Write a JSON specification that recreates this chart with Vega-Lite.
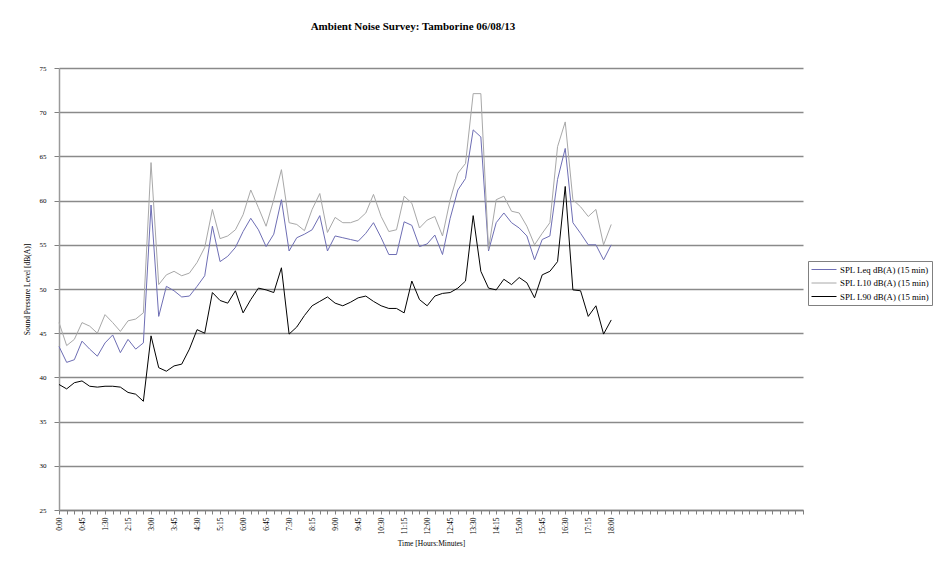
{
  "$schema": "https://vega.github.io/schema/vega-lite/v6.json",
  "width": 744,
  "height": 442,
  "autosize": {"type": "none"},
  "padding": {"left": 59, "top": 68, "right": 133, "bottom": 55},
  "background": "white",
  "title": {
    "text": "Ambient  Noise Survey: Tamborine  06/08/13",
    "font": "Liberation Serif",
    "fontSize": 11,
    "fontWeight": "bold",
    "color": "#000000",
    "anchor": "middle",
    "frame": "group",
    "dx": -18,
    "offset": 32
  },
  "data": {
    "values": [
      {"t": 0, "Leq": 43.5, "L10": 46.2, "L90": 39.2},
      {"t": 15, "Leq": 41.7, "L10": 43.6, "L90": 38.7},
      {"t": 30, "Leq": 42.0, "L10": 44.3, "L90": 39.4},
      {"t": 45, "Leq": 44.1, "L10": 46.2, "L90": 39.6},
      {"t": 60, "Leq": 43.2, "L10": 45.8, "L90": 39.0},
      {"t": 75, "Leq": 42.4, "L10": 45.0, "L90": 38.9},
      {"t": 90, "Leq": 43.9, "L10": 47.1, "L90": 39.0},
      {"t": 105, "Leq": 44.8, "L10": 46.2, "L90": 39.0},
      {"t": 120, "Leq": 42.8, "L10": 45.2, "L90": 38.9},
      {"t": 135, "Leq": 44.3, "L10": 46.4, "L90": 38.3},
      {"t": 150, "Leq": 43.2, "L10": 46.6, "L90": 38.1},
      {"t": 165, "Leq": 43.9, "L10": 47.3, "L90": 37.3},
      {"t": 180, "Leq": 59.5, "L10": 64.3, "L90": 44.7},
      {"t": 195, "Leq": 46.9, "L10": 50.5, "L90": 41.1},
      {"t": 210, "Leq": 50.3, "L10": 51.6, "L90": 40.7},
      {"t": 225, "Leq": 49.8, "L10": 52.0, "L90": 41.3},
      {"t": 240, "Leq": 49.1, "L10": 51.5, "L90": 41.5},
      {"t": 255, "Leq": 49.2, "L10": 51.8, "L90": 43.2},
      {"t": 270, "Leq": 50.3, "L10": 53.0, "L90": 45.4},
      {"t": 285, "Leq": 51.5, "L10": 54.7, "L90": 45.0},
      {"t": 300, "Leq": 57.1, "L10": 59.0, "L90": 49.6},
      {"t": 315, "Leq": 53.1, "L10": 55.7, "L90": 48.7},
      {"t": 330, "Leq": 53.7, "L10": 56.0, "L90": 48.4},
      {"t": 345, "Leq": 54.7, "L10": 56.7, "L90": 49.8},
      {"t": 360, "Leq": 56.5, "L10": 58.4, "L90": 47.3},
      {"t": 375, "Leq": 58.0, "L10": 61.2, "L90": 48.8},
      {"t": 390, "Leq": 56.7, "L10": 59.2, "L90": 50.1},
      {"t": 405, "Leq": 54.8, "L10": 57.1, "L90": 49.9},
      {"t": 420, "Leq": 56.2, "L10": 60.1, "L90": 49.6},
      {"t": 435, "Leq": 60.1, "L10": 63.5, "L90": 52.4},
      {"t": 450, "Leq": 54.3, "L10": 57.5, "L90": 44.9},
      {"t": 465, "Leq": 55.8, "L10": 57.3, "L90": 45.7},
      {"t": 480, "Leq": 56.2, "L10": 56.6, "L90": 47.0},
      {"t": 495, "Leq": 56.7, "L10": 59.0, "L90": 48.1},
      {"t": 510, "Leq": 58.3, "L10": 60.8, "L90": 48.6},
      {"t": 525, "Leq": 54.3, "L10": 56.4, "L90": 49.1},
      {"t": 540, "Leq": 56.0, "L10": 58.1, "L90": 48.4},
      {"t": 555, "Leq": 55.8, "L10": 57.5, "L90": 48.1},
      {"t": 570, "Leq": 55.6, "L10": 57.5, "L90": 48.5},
      {"t": 585, "Leq": 55.4, "L10": 57.8, "L90": 49.0},
      {"t": 600, "Leq": 56.3, "L10": 58.6, "L90": 49.2},
      {"t": 615, "Leq": 57.5, "L10": 60.7, "L90": 48.6},
      {"t": 630, "Leq": 55.8, "L10": 58.2, "L90": 48.1},
      {"t": 645, "Leq": 53.9, "L10": 56.5, "L90": 47.8},
      {"t": 660, "Leq": 53.9, "L10": 56.7, "L90": 47.8},
      {"t": 675, "Leq": 57.6, "L10": 60.5, "L90": 47.3},
      {"t": 690, "Leq": 57.2, "L10": 59.7, "L90": 50.9},
      {"t": 705, "Leq": 54.8, "L10": 56.9, "L90": 48.8},
      {"t": 720, "Leq": 55.1, "L10": 57.8, "L90": 48.1},
      {"t": 735, "Leq": 56.1, "L10": 58.2, "L90": 49.2},
      {"t": 750, "Leq": 53.9, "L10": 56.0, "L90": 49.5},
      {"t": 765, "Leq": 58.0, "L10": 60.1, "L90": 49.6},
      {"t": 780, "Leq": 61.2, "L10": 63.1, "L90": 50.1},
      {"t": 795, "Leq": 62.5, "L10": 64.2, "L90": 50.9},
      {"t": 810, "Leq": 68.0, "L10": 72.1, "L90": 58.3},
      {"t": 825, "Leq": 67.2, "L10": 72.1, "L90": 52.0},
      {"t": 840, "Leq": 54.3, "L10": 54.5, "L90": 50.1},
      {"t": 855, "Leq": 57.5, "L10": 60.1, "L90": 49.9},
      {"t": 870, "Leq": 58.6, "L10": 60.5, "L90": 51.1},
      {"t": 885, "Leq": 57.5, "L10": 58.8, "L90": 50.5},
      {"t": 900, "Leq": 56.9, "L10": 58.6, "L90": 51.3},
      {"t": 915, "Leq": 56.0, "L10": 57.1, "L90": 50.7},
      {"t": 930, "Leq": 53.3, "L10": 55.0, "L90": 49.0},
      {"t": 945, "Leq": 55.6, "L10": 56.3, "L90": 51.6},
      {"t": 960, "Leq": 56.0, "L10": 57.5, "L90": 52.0},
      {"t": 975, "Leq": 62.4, "L10": 66.1, "L90": 53.1},
      {"t": 990, "Leq": 65.9, "L10": 68.9, "L90": 61.6},
      {"t": 1005, "Leq": 57.5, "L10": 60.1, "L90": 49.9},
      {"t": 1020, "Leq": 56.3, "L10": 59.3, "L90": 49.8},
      {"t": 1035, "Leq": 55.0, "L10": 58.2, "L90": 46.9},
      {"t": 1050, "Leq": 55.0, "L10": 59.0, "L90": 48.1},
      {"t": 1065, "Leq": 53.3, "L10": 55.0, "L90": 44.9},
      {"t": 1080, "Leq": 55.0, "L10": 57.3, "L90": 46.5}
    ]
  },
  "transform": [{"fold": ["Leq", "L10", "L90"], "as": ["series", "value"]}],
  "mark": {"type": "line", "interpolate": "linear"},
  "encoding": {
    "x": {
      "field": "t",
      "type": "quantitative",
      "scale": {"domain": [0, 1455], "nice": false, "zero": false},
      "axis": {
        "values": [0,15,30,45,60,75,90,105,120,135,150,165,180,195,210,225,240,255,270,285,300,315,330,345,360,375,390,405,420,435,450,465,480,495,510,525,540,555,570,585,600,615,630,645,660,675,690,705,720,735,750,765,780,795,810,825,840,855,870,885,900,915,930,945,960,975,990,1005,1020,1035,1050,1065,1080,1095,1110,1125,1140,1155,1170,1185,1200,1215,1230,1245,1260,1275,1290,1305,1320,1335,1350,1365,1380,1395,1410,1425,1440,1455],
        "labelExpr": "(datum.value % 45 === 0 && datum.value <= 1080) ? (floor(datum.value / 60) + ':' + (datum.value % 60 < 10 ? '0' : '') + (datum.value % 60)) : ''",
        "labelAngle": 270,
        "labelOverlap": false,
        "labelFlush": false,
        "labelFont": "Liberation Serif",
        "labelFontSize": 7.5,
        "labelColor": "#000000",
        "labelPadding": 3,
        "tickSize": 4,
        "tickColor": "#808080",
        "domainColor": "#808080",
        "domainWidth": 1.5,
        "grid": false,
        "title": "Time [Hours:Minutes]",
        "titleFont": "Liberation Serif",
        "titleFontSize": 7.5,
        "titleFontWeight": "normal",
        "titleColor": "#000000",
        "titlePadding": 5
      }
    },
    "y": {
      "field": "value",
      "type": "quantitative",
      "scale": {"domain": [25, 75], "nice": false, "zero": false},
      "axis": {
        "values": [25, 30, 35, 40, 45, 50, 55, 60, 65, 70, 75],
        "grid": true,
        "gridColor": "#8a8a8a",
        "gridWidth": 1.5,
        "domainColor": "#9a9a9a",
        "domainWidth": 1.5,
        "tickSize": 5,
        "tickColor": "#808080",
        "labelFont": "Liberation Serif",
        "labelFontSize": 7,
        "labelColor": "#000000",
        "labelPadding": 8,
        "title": "Sound Pressure Level [dB(A)]",
        "titleFont": "Liberation Serif",
        "titleFontSize": 7.5,
        "titleFontWeight": "normal",
        "titleColor": "#000000",
        "titlePadding": 8
      }
    },
    "color": {
      "field": "series",
      "type": "nominal",
      "scale": {"domain": ["Leq", "L10", "L90"], "range": ["#6e6eb4", "#a8a8a8", "#000000"]},
      "legend": {
        "orient": "none",
        "legendX": 749,
        "legendY": 193,
        "title": null,
        "labelExpr": "'SPL ' + datum.label + ' dB(A) (15 min)'",
        "labelFont": "Liberation Serif",
        "labelFontSize": 8.8,
        "labelColor": "#000000",
        "labelOffset": 18,
        "symbolType": "M-1,0H4",
        "symbolSize": 100,
        "strokeColor": "#808080",
        "padding": 3,
        "rowPadding": 2.5,
        "labelLimit": 200
      }
    },
    "strokeWidth": {
      "field": "series",
      "type": "nominal",
      "scale": {"domain": ["Leq", "L10", "L90"], "range": [1, 1, 2]}
    }
  },
  "config": {"view": {"stroke": null}}
}
